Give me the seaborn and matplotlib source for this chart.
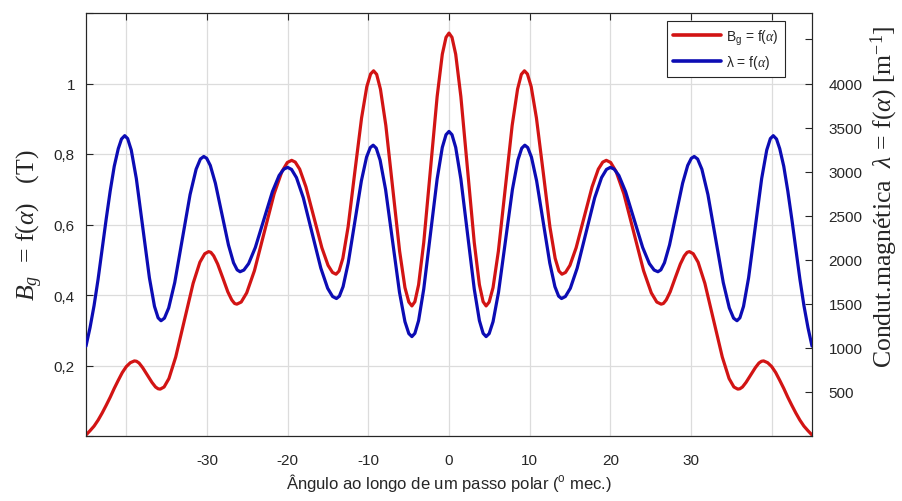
import numpy as np
import pandas as pd
import matplotlib
matplotlib.use("Agg")
import matplotlib.pyplot as plt
import seaborn as sns
from matplotlib.lines import Line2D

# Air-gap flux density B_g(alpha) [T] along one pole pitch
alpha_bg = [
    -45.0, -44.5, -44.0, -43.5, -43.0, -42.5, -42.0, -41.5, -41.0, -40.5, -40.0, -39.5, -39.0,
    -38.74, -38.42, -37.98, -37.4, -36.82, -36.38, -36.06, -35.8,
    -35.32, -34.72, -33.88, -32.8, -31.72, -30.88, -30.28, -29.8,
    -29.52, -29.17, -28.68, -28.05, -27.42, -26.93, -26.58, -26.3,
    -25.76, -25.08, -24.12, -22.9, -21.68, -20.72, -20.04, -19.5,
    -19.06, -18.51, -17.74, -16.75, -15.76, -14.99, -14.44, -14.0,
    -13.63, -13.16, -12.51, -11.68, -10.84, -10.19, -9.72, -9.35,
    -8.97, -8.50, -7.83, -6.98, -6.12, -5.46, -4.98, -4.6,
    -4.23, -3.77, -3.13, -2.3, -1.47, -0.83, -0.37, 0.0,
    0.37, 0.83, 1.47, 2.3, 3.13, 3.77, 4.23,
    4.6, 4.98, 5.46, 6.12, 6.98, 7.83, 8.50, 8.97,
    9.35, 9.72, 10.19, 10.84, 11.68, 12.51, 13.16, 13.63,
    14.0, 14.44, 14.99, 15.76, 16.75, 17.74, 18.51, 19.06,
    19.5, 20.04, 20.72, 21.68, 22.9, 24.12, 25.08, 25.76,
    26.3, 26.58, 26.93, 27.42, 28.05, 28.68, 29.17, 29.52,
    29.8, 30.28, 30.88, 31.72, 32.8, 33.88, 34.72, 35.32,
    35.8, 36.06, 36.38, 36.82, 37.4, 37.98, 38.42, 38.74,
    39.0, 39.5, 40.0, 40.5, 41.0, 41.5, 42.0, 42.5, 43.0, 43.5, 44.0, 44.5, 45.0,
]
bg_values = [
    0.003, 0.015, 0.028, 0.045, 0.065, 0.087, 0.110, 0.135, 0.158, 0.180, 0.197, 0.208, 0.213,
    0.212, 0.207, 0.194, 0.173, 0.152, 0.139, 0.134, 0.133,
    0.139, 0.163, 0.224, 0.328, 0.433, 0.493, 0.517, 0.523,
    0.521, 0.511, 0.488, 0.449, 0.409, 0.386, 0.376, 0.374,
    0.380, 0.406, 0.469, 0.578, 0.687, 0.750, 0.776, 0.782,
    0.777, 0.757, 0.707, 0.621, 0.534, 0.484, 0.464, 0.459,
    0.468, 0.504, 0.593, 0.748, 0.902, 0.991, 1.027, 1.036,
    1.026, 0.984, 0.881, 0.703, 0.524, 0.421, 0.380, 0.369,
    0.381, 0.429, 0.549, 0.756, 0.963, 1.083, 1.131, 1.143,
    1.131, 1.083, 0.963, 0.756, 0.549, 0.429, 0.381,
    0.369, 0.380, 0.421, 0.524, 0.703, 0.881, 0.984, 1.026,
    1.036, 1.027, 0.991, 0.902, 0.748, 0.593, 0.504, 0.468,
    0.459, 0.464, 0.484, 0.534, 0.621, 0.707, 0.757, 0.777,
    0.782, 0.776, 0.750, 0.687, 0.578, 0.469, 0.406, 0.380,
    0.374, 0.376, 0.386, 0.409, 0.449, 0.488, 0.511, 0.521,
    0.523, 0.517, 0.493, 0.433, 0.328, 0.224, 0.163, 0.139,
    0.133, 0.134, 0.139, 0.152, 0.173, 0.194, 0.207, 0.212,
    0.213, 0.208, 0.197, 0.180, 0.158, 0.135, 0.110, 0.087, 0.065, 0.045, 0.028, 0.015, 0.003,
]

# Magnetic permeance lambda(alpha) [1/m]
alpha_lam = [
    -45.0, -44.5, -44.0, -43.5, -43.0, -42.5, -42.0, -41.5, -41.0, -40.6, -40.2,
    -39.84, -39.39, -38.76, -37.95, -37.14, -36.51, -36.06, -35.7,
    -35.28, -34.75, -34.00, -33.05, -32.10, -31.35, -30.82, -30.4,
    -30.04, -29.59, -28.96, -28.15, -27.34, -26.71, -26.26, -25.9,
    -25.43, -24.84, -24.01, -22.95, -21.89, -21.06, -20.47, -20.0,
    -19.52, -18.91, -18.06, -16.98, -15.89, -15.04, -14.43, -13.95,
    -13.59, -13.13, -12.49, -11.68, -10.86, -10.22, -9.76, -9.4,
    -9.02, -8.54, -7.86, -7.0, -6.14, -5.46, -4.98, -4.6,
    -4.23, -3.77, -3.13, -2.3, -1.47, -0.83, -0.37, 0.0,
    0.37, 0.83, 1.47, 2.3, 3.13, 3.77, 4.23,
    4.6, 4.98, 5.46, 6.14, 7.0, 7.86, 8.54, 9.02,
    9.4, 9.76, 10.22, 10.86, 11.68, 12.49, 13.13, 13.59,
    13.95, 14.43, 15.04, 15.89, 16.98, 18.06, 18.91, 19.52,
    20.0, 20.47, 21.06, 21.89, 22.95, 24.01, 24.84, 25.43,
    25.9, 26.26, 26.71, 27.34, 28.15, 28.96, 29.59, 30.04,
    30.4, 30.82, 31.35, 32.10, 33.05, 34.00, 34.75, 35.28,
    35.7, 36.06, 36.51, 37.14, 37.95, 38.76, 39.39, 39.84,
    40.2, 40.6, 41.0, 41.5, 42.0, 42.5, 43.0, 43.5, 44.0, 44.5, 45.0,
]
lam_values = [
    1020, 1230, 1480, 1780, 2120, 2460, 2780, 3060, 3260, 3370, 3408,
    3375, 3245, 2921, 2358, 1795, 1471, 1341, 1308,
    1337, 1453, 1741, 2240, 2739, 3027, 3143, 3172,
    3151, 3070, 2868, 2518, 2168, 1966, 1885, 1864,
    1883, 1956, 2139, 2456, 2773, 2956, 3029, 3048,
    3025, 2932, 2703, 2304, 1905, 1676, 1583, 1560,
    1587, 1695, 1964, 2430, 2896, 3165, 3273, 3300,
    3266, 3131, 2796, 2214, 1632, 1297, 1162, 1128,
    1165, 1309, 1668, 2292, 2916, 3275, 3419, 3456,
    3419, 3275, 2916, 2292, 1668, 1309, 1165,
    1128, 1162, 1297, 1632, 2214, 2796, 3131, 3266,
    3300, 3273, 3165, 2896, 2430, 1964, 1695, 1587,
    1560, 1583, 1676, 1905, 2304, 2703, 2932, 3025,
    3048, 3029, 2956, 2773, 2456, 2139, 1956, 1883,
    1864, 1885, 1966, 2168, 2518, 2868, 3070, 3151,
    3172, 3143, 3027, 2739, 2240, 1741, 1453, 1337,
    1308, 1341, 1471, 1795, 2358, 2921, 3245, 3375,
    3408, 3370, 3260, 3060, 2780, 2460, 2120, 1780, 1480, 1230, 1020,
]

x_ticks = [-40, -30, -20, -10, 0, 10, 20, 30, 40]
x_ticklabels = ["", "-30", "-20", "-10", "0", "10", "20", "30", ""]
bg_ticks = [0, 0.2, 0.4, 0.6, 0.8, 1.0, 1.2]
bg_ticklabels = ["", "0,2", "0,4", "0,6", "0,8", "1", ""]
lam_ticks = [0, 500, 1000, 1500, 2000, 2500, 3000, 3500, 4000, 4500]
lam_ticklabels = ["", "500", "1000", "1500", "2000", "2500", "3000", "3500", "4000", ""]

RED = "#d21414"
BLUE = "#0c0cb4"
TXT = "#262626"

sns.set_style("white")
plt.rcParams["font.family"] = ["Liberation Sans", "DejaVu Sans"]
plt.rcParams["mathtext.fontset"] = "custom"
plt.rcParams["mathtext.rm"] = "Liberation Serif"
plt.rcParams["mathtext.it"] = "Liberation Serif:italic"
plt.rcParams["mathtext.bf"] = "Liberation Serif:bold"
plt.rcParams["mathtext.sf"] = "Liberation Sans"

fig = plt.figure(figsize=(9.02, 5.02), dpi=100)
ax = fig.add_axes([86 / 902, 1 - 437 / 502, 726 / 902, 423 / 502])
ax2 = ax.twinx()

df_bg = pd.DataFrame({"alpha": alpha_bg, "Bg": bg_values})
df_lam = pd.DataFrame({"alpha": alpha_lam, "lam": lam_values})

sns.lineplot(data=df_bg, x="alpha", y="Bg", ax=ax, color=RED, linewidth=2.3,
             estimator=None, legend=False, zorder=3)
sns.lineplot(data=df_lam, x="alpha", y="lam", ax=ax2, color=BLUE, linewidth=2.3,
             estimator=None, legend=False, zorder=3)

ax.set_xlim(-45, 45)
ax.set_ylim(0, 1.2)
ax2.set_ylim(0, 4800)

ax.set_xticks(x_ticks)
ax.set_xticklabels(x_ticklabels)
ax.set_yticks(bg_ticks)
ax.set_yticklabels(bg_ticklabels)
ax2.set_yticks(lam_ticks)
ax2.set_yticklabels(lam_ticklabels)

ax.grid(True, color="#dcdcdc", linewidth=0.9)
ax.set_axisbelow(True)

ax.tick_params(axis="x", direction="in", length=5, width=0.8, top=True,
               labelsize=11, colors=TXT, pad=12)
ax.tick_params(axis="y", direction="in", length=5, width=0.8, labelsize=11,
               colors=TXT, pad=8)
ax2.tick_params(axis="y", direction="in", length=5, width=0.8, labelsize=11,
                colors=TXT, pad=12)

for a in (ax, ax2):
    for s in a.spines.values():
        s.set_color(TXT)
        s.set_linewidth(0.8)

ax.set_xlabel("Ângulo ao longo de um passo polar ($\\mathsf{^o}$ mec.)",
              fontsize=12, color=TXT, labelpad=3)
ax.set_ylabel("$B_g$  = f($\\alpha$)   (T)", fontsize=18.5, color=TXT, labelpad=6,
              family="Liberation Serif")
ax2.set_ylabel("Condut.magnética  $\\lambda$ = f($\\alpha$) [m$^{-1}$]",
               fontsize=18.5, color=TXT, family="Liberation Serif")
ax2.yaxis.set_label_coords(1.078, 0.567)

handles = [
    Line2D([0], [0], color=RED, linewidth=2.6),
    Line2D([0], [0], color=BLUE, linewidth=2.6),
]
labels = ["$\\mathsf{B_g}$ = f($\\alpha$)", "$\\mathsf{\\lambda}$ = f($\\alpha$)"]
leg = ax2.legend(handles, labels, loc="upper right",
                 bbox_to_anchor=(699 / 726, 415 / 423), borderaxespad=0,
                 fontsize=10, frameon=True, fancybox=False, framealpha=1,
                 handlelength=3.4, handletextpad=0.4, borderpad=0.45,
                 labelspacing=0.45)
leg.get_frame().set_edgecolor(TXT)
leg.get_frame().set_linewidth(0.8)

fig.savefig("out.png", dpi=100)
